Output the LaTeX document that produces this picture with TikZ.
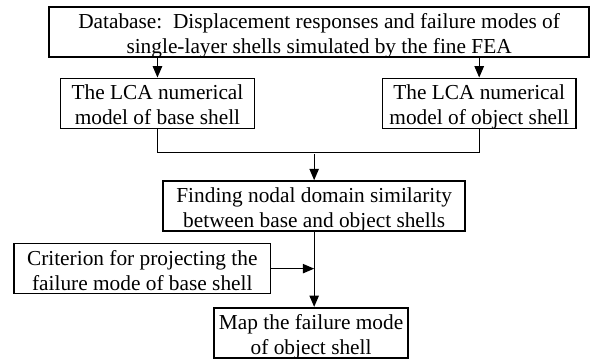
\documentclass[tikz,border=0pt]{standalone}
\usepackage{fontspec}
\setmainfont{Liberation Serif}
\usepackage{tikz}
\usetikzlibrary{arrows.meta}
\usetikzlibrary{positioning}
\tikzset{
    stage/.style={
           rectangle,
           draw=black, line width=1.25pt,
           inner sep=0pt,
           minimum height=37.5pt,
           font=\fontsize{16pt}{18.75pt}\selectfont,
           text centered,
           },
    flow/.style={
           line width=0.95pt,
           -{Triangle[length=8.5pt,width=7pt]},
           },
}
% two centred lines, set a bit low inside the frame
\newcommand{\twolines}[2]{\raisebox{-3pt}[\height][\depth]{\begin{tabular}{@{}c@{}}#1\\#2\end{tabular}}}

\begin{document}
\begin{tikzpicture}
        \useasboundingbox (0,0) rectangle (15.55,-9.52);

        % Database on top
        \node[stage,
            minimum width=14.23cm,
            anchor=center] (DB) at (8.41,-0.84)
        {\twolines{Database:\ \ Displacement responses and failure modes of}
                  {single-layer shells simulated by the fine FEA}};

        % LCA model, base shell
        \node[stage,
            minimum width=5.11cm,
            below of=DB,
            node distance=1.885cm,
            xshift=-4.26cm,
            anchor=center] (LCA_BASE)
        {\twolines{The LCA numerical}{model of base shell}};

        % LCA model, object shell
        \node[stage,
            minimum width=5.09cm,
            below of=DB,
            node distance=1.885cm,
            xshift=4.22cm,
            anchor=center] (LCA_OBJ)
        {\twolines{The LCA numerical}{model of object shell}};

        % similarity of nodal domains
        \node[stage,
            minimum width=7.96cm,
            below of=DB,
            node distance=4.59cm,
            xshift=-0.13cm,
            anchor=center] (SIMIL)
        {\twolines{Finding nodal domain similarity}{between base and object shells}};

        % projection criterion, left side
        \node[stage,
            minimum width=6.75cm,
            below of=SIMIL,
            node distance=1.65cm,
            xshift=-4.53cm,
            anchor=center] (CRIT)
        {\twolines{Criterion for projecting the}{failure mode of base shell}};

        % result
        \node[stage,
            minimum width=5.11cm,
            below of=SIMIL,
            node distance=3.34cm,
            xshift=-0.08cm,
            anchor=center] (MAP)
        {\twolines{Map the failure mode}{of object shell}};

        % connectors
        \draw[flow] (LCA_BASE.north |- DB.south) -- (LCA_BASE.north);
        \draw[flow] (LCA_OBJ.north |- DB.south) -- (LCA_OBJ.north);
        \draw[line width=0.95pt] (LCA_BASE.south) -- ++(0,-0.61) -| (LCA_OBJ.south);
        \draw[flow] ([yshift=0.68cm]SIMIL.north) -- (SIMIL.north);
        \draw[flow] (SIMIL.south) -- (SIMIL.south |- MAP.north);
        \draw[flow] (CRIT.east) -- (CRIT.east -| SIMIL.south);

\end{tikzpicture}
\end{document}
